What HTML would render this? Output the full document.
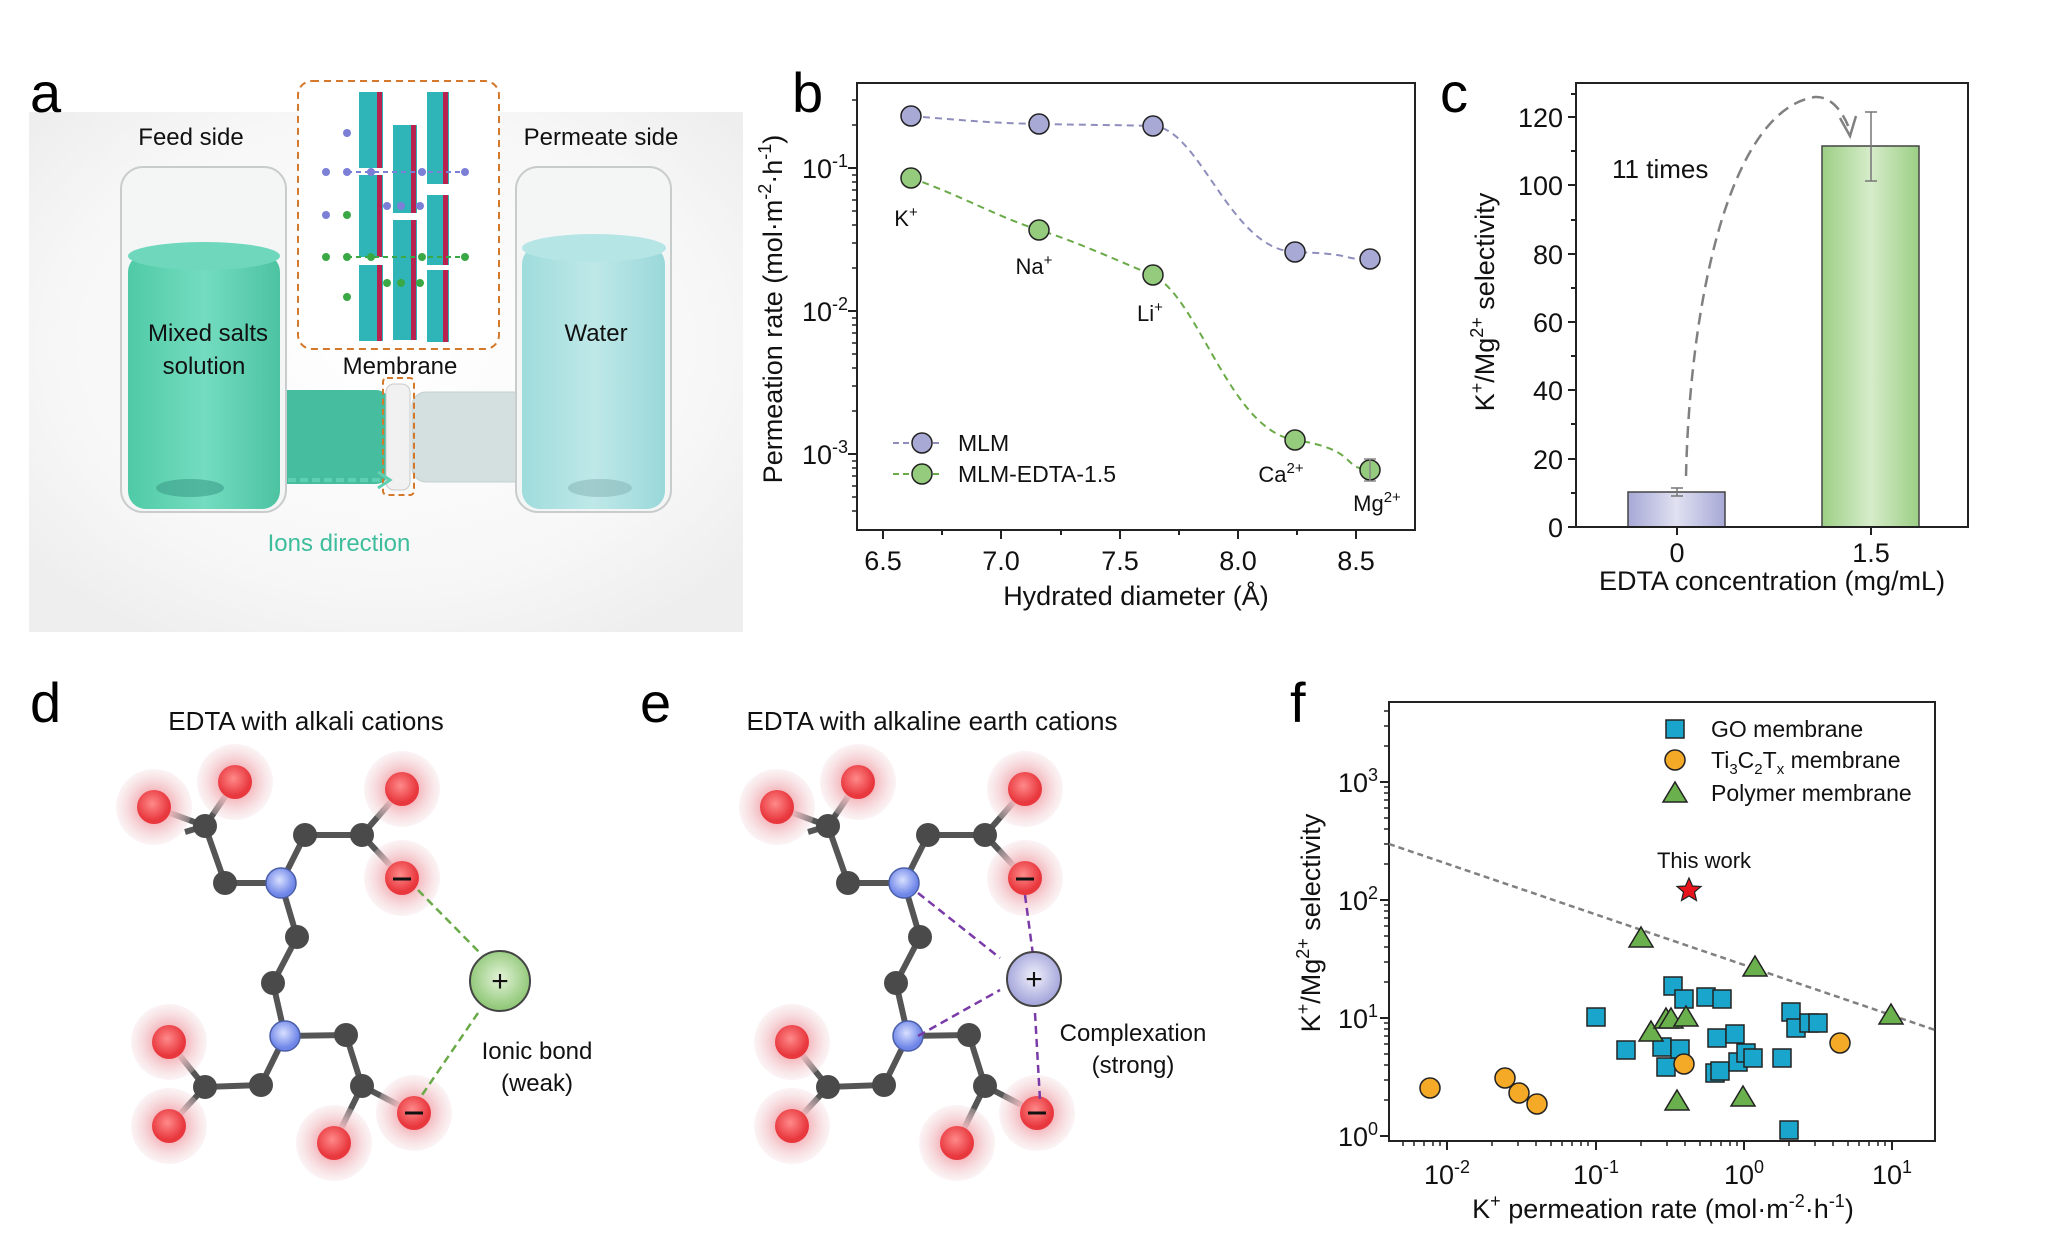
<!DOCTYPE html>
<html><head><meta charset="utf-8"><style>
html,body{margin:0;padding:0;background:#fff;}
svg{display:block;font-family:"Liberation Sans",Arial,sans-serif;}
</style></head><body>
<svg width="2048" height="1239" viewBox="0 0 2048 1239" xmlns="http://www.w3.org/2000/svg">
<defs>
<radialGradient id="bgA" cx="50%" cy="45%" r="65%"><stop offset="0" stop-color="#ffffff"/><stop offset="0.7" stop-color="#f7f7f7"/><stop offset="1" stop-color="#eeeeee"/></radialGradient>
<linearGradient id="barP" x1="0" x2="1"><stop offset="0" stop-color="#a7a8d6"/><stop offset="0.5" stop-color="#e0e1f1"/><stop offset="1" stop-color="#a7a8d6"/></linearGradient>
<linearGradient id="barG" x1="0" x2="1"><stop offset="0" stop-color="#9ccf85"/><stop offset="0.5" stop-color="#d6ecca"/><stop offset="1" stop-color="#9ccf85"/></linearGradient>
<radialGradient id="halo"><stop offset="0.4" stop-color="#f3b5bb"/><stop offset="1" stop-color="#f3d9dc" stop-opacity="0.3"/></radialGradient>
<radialGradient id="oxy" cx="45%" cy="40%"><stop offset="0" stop-color="#ff8a8a"/><stop offset="1" stop-color="#e8383e"/></radialGradient>
<radialGradient id="nit" cx="45%" cy="40%"><stop offset="0" stop-color="#d8e0ff"/><stop offset="1" stop-color="#6f86e8"/></radialGradient>
<radialGradient id="catG" cx="50%" cy="45%"><stop offset="0" stop-color="#e3f3d8"/><stop offset="1" stop-color="#93c97b"/></radialGradient>
<radialGradient id="catP" cx="50%" cy="45%"><stop offset="0" stop-color="#f0f0fb"/><stop offset="1" stop-color="#a7a8dc"/></radialGradient>
<linearGradient id="liqL" x1="0" x2="1"><stop offset="0" stop-color="#4fcaa6"/><stop offset="0.5" stop-color="#74dcc0"/><stop offset="1" stop-color="#4cc3a2"/></linearGradient>
<linearGradient id="liqR" x1="0" x2="1"><stop offset="0" stop-color="#9fdcdc"/><stop offset="0.5" stop-color="#bfe8e8"/><stop offset="1" stop-color="#9ad8da"/></linearGradient>
</defs>

<!-- ============ Panel a ============ -->
<rect x="29" y="112" width="714" height="520" fill="url(#bgA)"/>
<text x="30" y="112" font-size="56">a</text>
<rect x="270" y="390" width="120" height="94" rx="14" fill="#46bd9f"/>
<rect x="412" y="392" width="116" height="90" rx="14" fill="#d4dfe0" stroke="#c4cfd0"/>
<rect x="386" y="384" width="24" height="106" rx="8" fill="#f1f1f1" stroke="#c9c9c9"/>
<rect x="383" y="378" width="31" height="117" rx="4" fill="none" stroke="#d4792b" stroke-width="2" stroke-dasharray="6,4"/>
<rect x="121" y="167" width="165" height="345" rx="22" fill="#f4f6f6" stroke="#c8cccc" stroke-width="2"/>
<rect x="128" y="254" width="152" height="255" rx="18" fill="url(#liqL)"/>
<ellipse cx="204" cy="256" rx="76" ry="14" fill="#6fd7bc"/>
<ellipse cx="190" cy="488" rx="34" ry="9" fill="#3c9f88" opacity="0.6"/>
<rect x="516" y="167" width="155" height="345" rx="22" fill="#f4f6f6" stroke="#c8cccc" stroke-width="2"/>
<rect x="522" y="246" width="143" height="263" rx="18" fill="url(#liqR)"/>
<ellipse cx="594" cy="248" rx="72" ry="14" fill="#b6e5e6"/>
<ellipse cx="600" cy="488" rx="32" ry="9" fill="#8ab9bb" opacity="0.6"/>
<rect x="298" y="81" width="201" height="268" rx="14" fill="#fff" stroke="#d4792b" stroke-width="2" stroke-dasharray="7,5"/>
<g>
<rect x="359" y="92" width="24" height="76" fill="#2fb5b8"/><rect x="377" y="92" width="5" height="76" fill="#b8224f"/>
<rect x="359" y="175" width="24" height="82" fill="#2fb5b8"/><rect x="377" y="175" width="5" height="82" fill="#b8224f"/>
<rect x="359" y="265" width="24" height="76" fill="#2fb5b8"/><rect x="377" y="265" width="5" height="76" fill="#b8224f"/>
<rect x="393" y="125" width="24" height="88" fill="#2fb5b8"/><rect x="411" y="125" width="5" height="88" fill="#b8224f"/>
<rect x="393" y="220" width="24" height="120" fill="#2fb5b8"/><rect x="411" y="220" width="5" height="120" fill="#b8224f"/>
<rect x="427" y="92" width="22" height="92" fill="#2fb5b8"/><rect x="443" y="92" width="5" height="92" fill="#b8224f"/>
<rect x="427" y="195" width="22" height="70" fill="#2fb5b8"/><rect x="443" y="195" width="5" height="70" fill="#b8224f"/>
<rect x="427" y="270" width="22" height="72" fill="#2fb5b8"/><rect x="443" y="270" width="5" height="72" fill="#b8224f"/>
</g>
<g fill="#7b7fd6"><circle cx="347" cy="133" r="4"/><circle cx="326" cy="172" r="4"/><circle cx="347" cy="172" r="4"/><circle cx="371" cy="172" r="4"/><circle cx="422" cy="172" r="4"/><circle cx="465" cy="172" r="4"/><circle cx="387" cy="206" r="4"/><circle cx="401" cy="206" r="4"/><circle cx="420" cy="206" r="4"/><circle cx="326" cy="215" r="4"/></g>
<path d="M347 172 H460" stroke="#7b7fd6" stroke-width="2" stroke-dasharray="5,4" fill="none"/>
<g fill="#3aa845"><circle cx="347" cy="215" r="4"/><circle cx="326" cy="257" r="4"/><circle cx="347" cy="257" r="4"/><circle cx="371" cy="257" r="4"/><circle cx="422" cy="257" r="4"/><circle cx="465" cy="257" r="4"/><circle cx="387" cy="283" r="4"/><circle cx="401" cy="283" r="4"/><circle cx="420" cy="283" r="4"/><circle cx="347" cy="297" r="4"/></g>
<path d="M347 257 H460" stroke="#3aa845" stroke-width="2" stroke-dasharray="5,4" fill="none"/>
<g font-size="24" fill="#111" text-anchor="middle">
<text x="191" y="145">Feed side</text>
<text x="601" y="145">Permeate side</text>
<text x="208" y="341">Mixed salts</text>
<text x="204" y="374">solution</text>
<text x="596" y="341">Water</text>
<text x="400" y="374">Membrane</text>
<text x="339" y="551" fill="#3ebd9c">Ions direction</text>
</g>
<path d="M288 480 H380" stroke="#5fcfb1" stroke-width="4" stroke-dasharray="8,4"/>
<path d="M378 472 L390 480 L378 488" fill="none" stroke="#5fcfb1" stroke-width="3"/>

<!-- ============ Panel b ============ -->
<text x="792" y="112" font-size="56">b</text>
<rect x="857" y="83" width="558" height="447" fill="none" stroke="#222" stroke-width="2"/>
<g stroke="#222" stroke-width="2">
<path d="M883 530v9M1001 530v9M1120 530v9M1238 530v9M1356 530v9M942 530v5M1061 530v5M1179 530v5M1297 530v5"/>
<path d="M857 168h-9M857 311h-9M857 454h-9"/>
<path stroke-width="1.5" d="M857 125h-5M857 100h-5M857 268h-5M857 243h-5M857 225h-5M857 211h-5M857 200h-5M857 190h-5M857 182h-5M857 175h-5M857 411h-5M857 386h-5M857 368h-5M857 354h-5M857 343h-5M857 333h-5M857 325h-5M857 318h-5M857 511h-5M857 497h-5M857 486h-5M857 476h-5M857 468h-5M857 461h-5"/>
</g>
<g font-size="27" fill="#111" text-anchor="middle">
<text x="883" y="570">6.5</text><text x="1001" y="570">7.0</text><text x="1120" y="570">7.5</text><text x="1238" y="570">8.0</text><text x="1356" y="570">8.5</text>
<text x="1136" y="605">Hydrated diameter (Å)</text>
</g>
<g font-size="27" fill="#111" text-anchor="end">
<text x="848" y="178">10<tspan dy="-11" font-size="18">-1</tspan></text>
<text x="848" y="321">10<tspan dy="-11" font-size="18">-2</tspan></text>
<text x="848" y="464">10<tspan dy="-11" font-size="18">-3</tspan></text>
</g>
<text transform="translate(782,309) rotate(-90)" font-size="27" text-anchor="middle" fill="#111">Permeation rate (mol·m<tspan dy="-11" font-size="18">-2</tspan><tspan dy="11">·h</tspan><tspan dy="-11" font-size="18">-1</tspan><tspan dy="11">)</tspan></text>
<path d="M911 116 C960 120 990 123 1039 124 S1120 125 1153 126 C1200 128 1230 250 1295 252 S1340 260 1370 259" fill="none" stroke="#8e8ebc" stroke-width="2" stroke-dasharray="7,5"/>
<path d="M911 178 C960 195 1000 218 1039 230 S1120 262 1153 275 C1200 300 1230 430 1295 440 S1340 468 1370 470" fill="none" stroke="#6aaa48" stroke-width="2" stroke-dasharray="7,5"/>
<g stroke="#222" stroke-width="1.5" fill="#a9a9d6">
<ellipse cx="911" cy="116" rx="10" ry="10"/><ellipse cx="1039" cy="124" rx="10" ry="10"/><ellipse cx="1153" cy="126" rx="10" ry="10"/><ellipse cx="1295" cy="252" rx="10" ry="10"/><ellipse cx="1370" cy="259" rx="10" ry="10"/>
</g>
<g stroke="#222" stroke-width="1.5" fill="#94cb7c">
<ellipse cx="911" cy="178" rx="10" ry="10"/><ellipse cx="1039" cy="230" rx="10" ry="10"/><ellipse cx="1153" cy="275" rx="10" ry="10"/><ellipse cx="1295" cy="440" rx="10" ry="10"/><ellipse cx="1370" cy="470" rx="10" ry="10"/>
</g>
<path d="M1364 459h12M1370 459v22M1364 481h12" stroke="#888" stroke-width="1.5"/>
<g font-size="22" fill="#111" text-anchor="middle">
<text x="906" y="226">K<tspan dy="-9" font-size="15">+</tspan></text>
<text x="1034" y="274">Na<tspan dy="-9" font-size="15">+</tspan></text>
<text x="1150" y="321">Li<tspan dy="-9" font-size="15">+</tspan></text>
<text x="1281" y="482">Ca<tspan dy="-9" font-size="15">2+</tspan></text>
<text x="1377" y="511">Mg<tspan dy="-9" font-size="15">2+</tspan></text>
</g>
<path d="M893 443h50" stroke="#8e8ebc" stroke-width="2" stroke-dasharray="6,4"/>
<path d="M893 474h50" stroke="#6aaa48" stroke-width="2" stroke-dasharray="6,4"/>
<circle cx="922" cy="443" r="10" fill="#a9a9d6" stroke="#222" stroke-width="1.5"/>
<circle cx="922" cy="474" r="10" fill="#94cb7c" stroke="#222" stroke-width="1.5"/>
<g font-size="23" fill="#111"><text x="958" y="451">MLM</text><text x="958" y="482">MLM-EDTA-1.5</text></g>

<!-- ============ Panel c ============ -->
<text x="1440" y="112" font-size="56">c</text>
<rect x="1628" y="492" width="97" height="35" fill="url(#barP)" stroke="#444" stroke-width="1.5"/>
<rect x="1822" y="146" width="97" height="381" fill="url(#barG)" stroke="#444" stroke-width="1.5"/>
<path d="M1671 488h12M1677 488v8M1671 496h12" stroke="#777" stroke-width="1.5"/>
<path d="M1865 112h12M1871 112v69M1865 181h12" stroke="#777" stroke-width="1.5"/>
<rect x="1576" y="83" width="392" height="444" fill="none" stroke="#222" stroke-width="2"/>
<g stroke="#222" stroke-width="2">
<path d="M1576 527h-8M1576 459h-8M1576 390h-8M1576 322h-8M1576 254h-8M1576 185h-8M1576 117h-8"/>
<path d="M1576 493h-5M1576 424h-5M1576 356h-5M1576 288h-5M1576 220h-5M1576 151h-5M1576 94h-5"/>
<path d="M1677 527v8M1871 527v8"/>
</g>
<g font-size="27" fill="#111" text-anchor="end">
<text x="1563" y="537">0</text><text x="1563" y="469">20</text><text x="1563" y="400">40</text><text x="1563" y="332">60</text><text x="1563" y="264">80</text><text x="1563" y="195">100</text><text x="1563" y="127">120</text>
</g>
<g font-size="27" fill="#111" text-anchor="middle">
<text x="1677" y="562">0</text><text x="1871" y="562">1.5</text>
<text x="1772" y="590">EDTA concentration (mg/mL)</text>
</g>
<text transform="translate(1494,302) rotate(-90)" font-size="27" text-anchor="middle" fill="#111">K<tspan dy="-11" font-size="18">+</tspan><tspan dy="11">/Mg</tspan><tspan dy="-11" font-size="18">2+</tspan><tspan dy="11"> selectivity</tspan></text>
<text x="1612" y="178" font-size="26" fill="#111">11 times</text>
<path d="M1686 476 C1690 300 1730 110 1815 97 C1830 96 1842 110 1849 128" fill="none" stroke="#808080" stroke-width="2.5" stroke-dasharray="12,7"/>
<path d="M1840 118 L1850 136 L1856 116" fill="none" stroke="#808080" stroke-width="2.5"/>

<!-- ============ Panel d ============ -->
<text x="30" y="722" font-size="56">d</text>
<text x="306" y="730" font-size="26" fill="#111" text-anchor="middle">EDTA with alkali cations</text>
<g id="mol">
<g stroke="#555" stroke-width="6" fill="none">
<path d="M154 807L205 826L185 832M235 782L205 826L225 883L281 883L305 835L362 835L402 789M362 835L402 878M281 883L297 937L273 983L285 1036L346 1035L362 1086L334 1143M362 1086L414 1113M285 1036L261 1085L205 1087L169 1042M205 1087L169 1126"/>
</g>
<g fill="url(#halo)">
<circle cx="154" cy="807" r="38"/><circle cx="235" cy="782" r="38"/><circle cx="402" cy="789" r="38"/><circle cx="402" cy="878" r="38"/><circle cx="169" cy="1042" r="38"/><circle cx="169" cy="1126" r="38"/><circle cx="334" cy="1143" r="38"/><circle cx="414" cy="1113" r="38"/>
</g>
<g fill="url(#oxy)">
<circle cx="154" cy="807" r="17"/><circle cx="235" cy="782" r="17"/><circle cx="402" cy="789" r="17"/><circle cx="402" cy="878" r="17"/><circle cx="169" cy="1042" r="17"/><circle cx="169" cy="1126" r="17"/><circle cx="334" cy="1143" r="17"/><circle cx="414" cy="1113" r="17"/>
</g>
<g fill="#4a4a4a">
<circle cx="205" cy="826" r="12"/><circle cx="225" cy="883" r="12"/><circle cx="305" cy="835" r="12"/><circle cx="362" cy="835" r="12"/><circle cx="297" cy="937" r="12"/><circle cx="273" cy="983" r="12"/><circle cx="346" cy="1035" r="12"/><circle cx="362" cy="1086" r="12"/><circle cx="205" cy="1087" r="12"/><circle cx="261" cy="1085" r="12"/>
</g>
<g fill="url(#nit)" stroke="#4a5ea8" stroke-width="1.5"><circle cx="281" cy="883" r="15"/><circle cx="285" cy="1036" r="15"/></g>
<g stroke="#111" stroke-width="3"><path d="M393 879h18M405 1113h18"/></g>
</g>
<path d="M418 890 L482 955 M478 1013 L422 1095" stroke="#6aaa48" stroke-width="2.5" stroke-dasharray="8,5"/>
<circle cx="500" cy="981" r="30" fill="url(#catG)" stroke="#444" stroke-width="2"/>
<text x="500" y="991" font-size="30" text-anchor="middle" fill="#111">+</text>
<g font-size="24" fill="#111" text-anchor="middle"><text x="537" y="1059">Ionic bond</text><text x="537" y="1091">(weak)</text></g>

<!-- ============ Panel e ============ -->
<text x="640" y="722" font-size="56">e</text>
<text x="932" y="730" font-size="26" fill="#111" text-anchor="middle">EDTA with alkaline earth cations</text>
<use href="#mol" x="623" y="0"/>
<g stroke="#7a3aa8" stroke-width="2.5" stroke-dasharray="8,5" fill="none">
<path d="M918 893 L1000 958 M918 1036 L1000 990 M1025 895 L1033 955 M1035 1013 L1040 1100"/>
</g>
<circle cx="1034" cy="979" r="27" fill="url(#catP)" stroke="#444" stroke-width="2"/>
<text x="1034" y="989" font-size="30" text-anchor="middle" fill="#111">+</text>
<g font-size="24" fill="#111" text-anchor="middle"><text x="1133" y="1041">Complexation</text><text x="1133" y="1073">(strong)</text></g>

<!-- ============ Panel f ============ -->
<text x="1290" y="722" font-size="56">f</text>
<rect x="1389" y="702" width="546" height="439" fill="none" stroke="#222" stroke-width="2"/>
<g stroke="#222" stroke-width="2">
<path d="M1447 1141v9M1596 1141v9M1744 1141v9M1892 1141v9"/>
<path d="M1389 1136h-9M1389 1018h-9M1389 900h-9M1389 782h-9"/>
<path stroke-width="1.5" d="M1403 1141v5M1414 1141v5M1424 1141v5M1433 1141v5M1440 1141v5M1492 1141v5M1518 1141v5M1536 1141v5M1551 1141v5M1562 1141v5M1572 1141v5M1581 1141v5M1588 1141v5M1641 1141v5M1667 1141v5M1685 1141v5M1700 1141v5M1711 1141v5M1721 1141v5M1730 1141v5M1737 1141v5M1789 1141v5M1815 1141v5M1833 1141v5M1848 1141v5M1859 1141v5M1869 1141v5M1878 1141v5M1885 1141v5"/>
<path stroke-width="1.5" d="M1389 1100h-5M1389 1080h-5M1389 1065h-5M1389 1054h-5M1389 1044h-5M1389 1036h-5M1389 1029h-5M1389 1023h-5M1389 982h-5M1389 962h-5M1389 947h-5M1389 936h-5M1389 926h-5M1389 918h-5M1389 911h-5M1389 905h-5M1389 864h-5M1389 844h-5M1389 829h-5M1389 818h-5M1389 808h-5M1389 800h-5M1389 793h-5M1389 787h-5M1389 746h-5M1389 726h-5M1389 711h-5"/>
</g>
<g font-size="27" fill="#111" text-anchor="middle">
<text x="1447" y="1184">10<tspan dy="-11" font-size="18">-2</tspan></text>
<text x="1596" y="1184">10<tspan dy="-11" font-size="18">-1</tspan></text>
<text x="1744" y="1184">10<tspan dy="-11" font-size="18">0</tspan></text>
<text x="1892" y="1184">10<tspan dy="-11" font-size="18">1</tspan></text>
<text x="1663" y="1218">K<tspan dy="-11" font-size="18">+</tspan><tspan dy="11"> permeation rate (mol·m</tspan><tspan dy="-11" font-size="18">-2</tspan><tspan dy="11">·h</tspan><tspan dy="-11" font-size="18">-1</tspan><tspan dy="11">)</tspan></text>
</g>
<g font-size="27" fill="#111" text-anchor="end">
<text x="1378" y="1146">10<tspan dy="-11" font-size="18">0</tspan></text>
<text x="1378" y="1028">10<tspan dy="-11" font-size="18">1</tspan></text>
<text x="1378" y="910">10<tspan dy="-11" font-size="18">2</tspan></text>
<text x="1378" y="792">10<tspan dy="-11" font-size="18">3</tspan></text>
</g>
<text transform="translate(1320,923) rotate(-90)" font-size="27" text-anchor="middle" fill="#111">K<tspan dy="-11" font-size="18">+</tspan><tspan dy="11">/Mg</tspan><tspan dy="-11" font-size="18">2+</tspan><tspan dy="11"> selectivity</tspan></text>
<path d="M1389 844 L1935 1030" stroke="#808080" stroke-width="2.5" stroke-dasharray="6,4"/>
<g fill="#1aa6cc" stroke="#222" stroke-width="1.5">
<rect x="1587" y="1008" width="18" height="18"/><rect x="1617" y="1041" width="18" height="18"/><rect x="1653" y="1038" width="18" height="18"/><rect x="1657" y="1058" width="18" height="18"/><rect x="1664" y="977" width="18" height="18"/><rect x="1671" y="1040" width="18" height="18"/><rect x="1675" y="990" width="18" height="18"/><rect x="1697" y="988" width="18" height="18"/><rect x="1713" y="990" width="18" height="18"/><rect x="1708" y="1029" width="18" height="18"/><rect x="1706" y="1064" width="18" height="18"/><rect x="1711" y="1062" width="18" height="18"/><rect x="1726" y="1025" width="18" height="18"/><rect x="1729" y="1053" width="18" height="18"/><rect x="1737" y="1044" width="18" height="18"/><rect x="1744" y="1049" width="18" height="18"/><rect x="1773" y="1049" width="18" height="18"/><rect x="1782" y="1003" width="18" height="18"/><rect x="1787" y="1019" width="18" height="18"/><rect x="1800" y="1014" width="18" height="18"/><rect x="1809" y="1014" width="18" height="18"/><rect x="1780" y="1121" width="18" height="18"/>
</g>
<g fill="#f5aa27" stroke="#222" stroke-width="1.5">
<circle cx="1430" cy="1088" r="10"/><circle cx="1505" cy="1078" r="10"/><circle cx="1519" cy="1093" r="10"/><circle cx="1537" cy="1104" r="10"/><circle cx="1684" cy="1064" r="10"/><circle cx="1840" cy="1043" r="10"/>
</g>
<g fill="#6ab04c" stroke="#222" stroke-width="1.5">
<path d="M1641 927l12 20h-24z"/><path d="M1651 1021l12 20h-24z"/><path d="M1666 1008l12 20h-24z"/><path d="M1671 1008l12 20h-24z"/><path d="M1686 1006l12 20h-24z"/><path d="M1677 1090l12 20h-24z"/><path d="M1743 1086l12 20h-24z"/><path d="M1755 956l12 20h-24z"/><path d="M1891 1004l12 20h-24z"/>
</g>
<path d="M1689 878 l3.5 8 8.5 0.5 -6.5 5.5 2 8.5 -7.5 -4.5 -7.5 4.5 2 -8.5 -6.5 -5.5 8.5 -0.5z" fill="#e8141c" stroke="#222" stroke-width="1.2"/>
<text x="1704" y="868" font-size="22" fill="#111" text-anchor="middle">This work</text>
<rect x="1666" y="720" width="18" height="18" fill="#1aa6cc" stroke="#222" stroke-width="1.5"/>
<circle cx="1675" cy="760" r="10" fill="#f5aa27" stroke="#222" stroke-width="1.5"/>
<path d="M1675 782l12 20h-24z" fill="#6ab04c" stroke="#222" stroke-width="1.5"/>
<g font-size="23" fill="#111">
<text x="1711" y="737">GO membrane</text>
<text x="1711" y="768">Ti<tspan dy="6" font-size="15">3</tspan><tspan dy="-6">C</tspan><tspan dy="6" font-size="15">2</tspan><tspan dy="-6">T</tspan><tspan dy="6" font-size="15">x</tspan><tspan dy="-6"> membrane</tspan></text>
<text x="1711" y="801">Polymer membrane</text>
</g>
</svg>
</body></html>
